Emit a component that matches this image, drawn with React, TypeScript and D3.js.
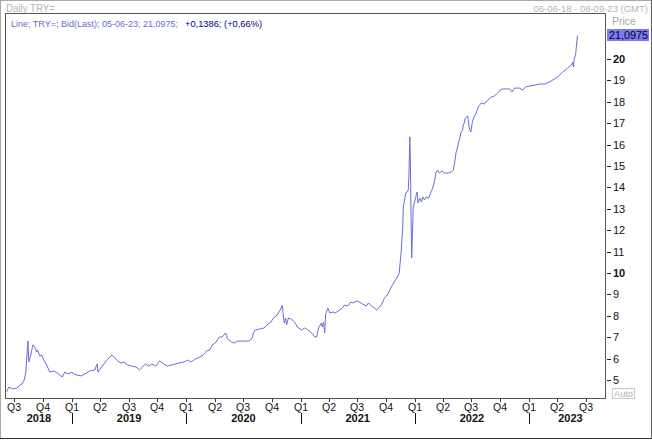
import React from 'react';
import * as d3 from 'd3';

// daily TRY= bid
const dates = [
  '2018-06-06', '2018-06-13', '2018-06-26', '2018-07-09', '2018-07-19', '2018-07-25', '2018-08-01', '2018-08-06',
  '2018-08-09', '2018-08-13', '2018-08-16', '2018-08-22', '2018-08-29', '2018-09-04', '2018-09-10', '2018-09-13',
  '2018-09-20', '2018-09-26', '2018-10-03', '2018-10-12', '2018-10-22', '2018-11-04', '2018-11-14', '2018-11-23',
  '2018-12-01', '2018-12-09', '2018-12-19', '2019-01-01', '2019-01-07', '2019-01-17', '2019-01-29', '2019-02-11',
  '2019-02-27', '2019-03-15', '2019-03-22', '2019-03-25', '2019-04-03', '2019-04-13', '2019-04-22', '2019-05-02',
  '2019-05-08', '2019-05-18', '2019-05-27', '2019-06-06', '2019-06-16', '2019-06-28', '2019-07-11', '2019-07-24',
  '2019-08-05', '2019-08-15', '2019-08-24', '2019-09-03', '2019-09-13', '2019-09-26', '2019-10-08', '2019-10-21',
  '2019-11-02', '2019-11-15', '2019-11-28', '2019-12-09', '2019-12-24', '2020-01-06', '2020-01-15', '2020-01-31',
  '2020-02-13', '2020-02-25', '2020-03-06', '2020-03-16', '2020-03-25', '2020-04-06', '2020-04-16', '2020-04-25',
  '2020-05-06', '2020-05-12', '2020-05-25', '2020-06-03', '2020-06-13', '2020-06-28', '2020-07-20', '2020-07-30',
  '2020-08-03', '2020-08-09', '2020-08-22', '2020-09-06', '2020-09-15', '2020-09-28', '2020-10-06', '2020-10-15',
  '2020-10-28', '2020-11-03', '2020-11-07', '2020-11-10', '2020-11-14', '2020-11-17', '2020-11-23', '2020-12-02',
  '2020-12-15', '2020-12-21', '2021-01-04', '2021-01-14', '2021-01-24', '2021-02-05', '2021-02-15', '2021-02-21',
  '2021-02-27', '2021-03-08', '2021-03-11', '2021-03-15', '2021-03-19', '2021-03-22', '2021-03-29', '2021-04-05',
  '2021-04-14', '2021-04-20', '2021-04-27', '2021-05-06', '2021-05-14', '2021-05-21', '2021-06-01', '2021-06-10',
  '2021-06-16', '2021-06-29', '2021-07-08', '2021-07-18', '2021-07-30', '2021-08-06', '2021-08-15', '2021-08-25',
  '2021-09-01', '2021-09-10', '2021-09-19', '2021-09-26', '2021-10-05', '2021-10-18', '2021-10-27', '2021-11-05',
  '2021-11-12', '2021-11-15', '2021-11-18', '2021-11-22', '2021-11-23', '2021-11-25', '2021-11-29', '2021-12-03',
  '2021-12-08', '2021-12-11', '2021-12-13', '2021-12-16', '2021-12-18', '2021-12-20', '2021-12-22', '2021-12-24',
  '2021-12-27', '2022-01-04', '2022-01-08', '2022-01-11', '2022-01-17', '2022-01-22', '2022-01-27', '2022-02-01',
  '2022-02-06', '2022-02-14', '2022-02-22', '2022-02-27', '2022-03-04', '2022-03-10', '2022-03-15', '2022-03-20',
  '2022-03-29', '2022-04-05', '2022-04-16', '2022-04-27', '2022-05-04', '2022-05-08', '2022-05-13', '2022-05-18',
  '2022-05-21', '2022-05-23', '2022-05-29', '2022-06-03', '2022-06-05', '2022-06-08', '2022-06-11', '2022-06-19',
  '2022-06-24', '2022-06-29', '2022-07-04', '2022-07-09', '2022-07-16', '2022-07-23', '2022-08-01', '2022-08-11',
  '2022-08-22', '2022-09-02', '2022-09-12', '2022-09-23', '2022-10-01', '2022-10-09', '2022-10-20', '2022-10-31',
  '2022-11-08', '2022-11-15', '2022-12-01', '2022-12-12', '2022-12-21', '2023-01-03', '2023-01-19', '2023-02-04',
  '2023-02-20', '2023-03-08', '2023-03-24', '2023-04-06', '2023-04-19', '2023-05-05', '2023-05-16', '2023-05-21',
  '2023-05-23', '2023-05-26', '2023-05-30', '2023-06-01', '2023-06-05',
];
const prices = [
  4.45, 4.67, 4.58, 4.63, 4.77, 4.81, 5.0, 5.33,
  5.93, 6.82, 5.84, 6.17, 6.64, 6.54, 6.31, 6.4,
  6.12, 6.17, 5.93, 5.7, 5.37, 5.42, 5.33, 5.23,
  5.14, 5.37, 5.28, 5.37, 5.28, 5.23, 5.19, 5.28,
  5.42, 5.47, 5.75, 5.37, 5.56, 5.75, 5.93, 6.07,
  6.17, 6.03, 5.89, 5.79, 5.84, 5.7, 5.65, 5.61,
  5.47, 5.61, 5.75, 5.65, 5.75, 5.65, 5.89, 5.75,
  5.65, 5.7, 5.75, 5.79, 5.84, 5.93, 5.84, 5.98,
  6.07, 6.17, 6.36, 6.4, 6.64, 6.78, 7.01, 7.01,
  7.2, 6.92, 6.78, 6.73, 6.82, 6.82, 6.82, 6.96,
  7.2, 7.34, 7.38, 7.43, 7.57, 7.71, 7.9, 7.99,
  8.27, 8.5, 7.94, 7.66, 7.9, 7.57, 7.9, 7.85,
  7.66, 7.48, 7.34, 7.43, 7.34, 7.2, 7.01, 7.01,
  7.43, 7.66, 7.48, 7.71, 7.2, 8.08, 8.36, 8.13,
  8.18, 8.13, 8.18, 8.27, 8.36, 8.5, 8.46, 8.64,
  8.6, 8.69, 8.64, 8.55, 8.46, 8.6, 8.46, 8.36,
  8.27, 8.41, 8.6, 8.83, 8.97, 9.35, 9.58, 9.77,
  10.0, 10.47, 10.93, 11.87, 12.01, 13.08, 13.41, 13.74,
  13.79, 13.88, 14.49, 16.36, 15.14, 12.48, 10.7, 11.68,
  13.08, 13.55, 13.79, 13.27, 13.5, 13.32, 13.55, 13.41,
  13.55, 13.5, 13.79, 13.97, 14.21, 14.72, 14.81, 14.67,
  14.77, 14.67, 14.67, 14.72, 14.81, 15.14, 15.65, 15.89,
  16.12, 16.21, 16.59, 16.68, 16.92, 17.01, 17.24, 17.34,
  16.78, 16.59, 17.06, 17.29, 17.48, 17.76, 17.94, 17.9,
  18.08, 18.22, 18.27, 18.41, 18.55, 18.6, 18.6, 18.6,
  18.46, 18.64, 18.64, 18.55, 18.69, 18.74, 18.78, 18.83,
  18.83, 18.93, 19.07, 19.21, 19.39, 19.58, 19.72, 19.86,
  19.63, 20.05, 20.19, 20.51, 21.0975,
];
const yTicks = [5, 6, 7, 8, 9, 10, 11, 12, 13, 14, 15, 16, 17, 18, 19, 20];
const years = [2018, 2019, 2020, 2021, 2022, 2023];

const W = 652;
const H = 440;
const plot = { left: 6, top: 14, right: 606, bottom: 399 };
const FONT = '"Liberation Sans", Arial, sans-serif';
const LINE_COLOR = '#6c6cd8';

export default function App() {
  const parse = d3.timeParse('%Y-%m-%d');
  const data = dates.map((d, i) => ({ date: parse(d) as Date, value: prices[i] }));

  const x = d3.scaleTime()
    .domain([new Date(2019, 0, 1), new Date(2023, 0, 1)])
    .range([72, 529]);
  const y = d3.scaleLinear().domain([5, 20]).range([380, 59]);

  const line = d3.line<{ date: Date; value: number }>()
    .x(d => x(d.date))
    .y(d => y(d.value));

  const leftDate = x.invert(plot.left);
  const rightDate = x.invert(plot.right);
  const quarters = d3.timeMonth.every(3)!.range(leftDate, rightDate);
  const yearStarts = d3.timeYear.range(leftDate, rightDate);

  const last = data[data.length - 1];

  return (
    <div style={{ position: 'fixed', left: 0, top: 0 }}>
      <svg width={W} height={H} style={{ display: 'block', background: '#fff' }} fontFamily={FONT}>
        <defs>
          <clipPath id="plotClip">
            <rect x={plot.left} y={plot.top} width={plot.right - plot.left} height={plot.bottom - plot.top} />
          </clipPath>
        </defs>

        {/* outer frame */}
        <rect x={0.5} y={0.5} width={W - 1} height={438} fill="none" stroke="#a8a8a8" />
        <line x1={0} x2={W} y1={438.5} y2={438.5} stroke="#303030" />
        <line x1={651.5} x2={651.5} y1={0} y2={439} stroke="#606060" />

        {/* header */}
        <text x={6} y={12} fontSize={10.5} fill="#b4b4b4" textLength={49} lengthAdjust="spacingAndGlyphs">Daily TRY=</text>
        <text x={648} y={12} fontSize={9.5} fill="#b4b4b4" textAnchor="end">06-06-18 - 08-09-23 (GMT)</text>

        {/* plot box */}
        <rect x={plot.left - 0.5} y={plot.top - 0.5} width={plot.right - plot.left} height={plot.bottom - plot.top}
          fill="#fff" stroke="#555" />

        <text x={11} y={27} fontSize={9} fill="#6a6ad0">Line; TRY=; Bid(Last); 05-06-23; 21,0975;</text>
        <text x={185} y={27} fontSize={9.3} fill="#00008a">+0,1386; (+0,66%)</text>

        <path d={line(data) || ''} fill="none" stroke={LINE_COLOR} strokeWidth={1} clipPath="url(#plotClip)" />

        {/* right price axis */}
        <text x={612} y={25} fontSize={10.5} fill="#a8a8a8">Price</text>
        {yTicks.map(t => (
          <g key={t}>
            <line x1={607} x2={611} y1={Math.round(y(t)) + 0.5} y2={Math.round(y(t)) + 0.5} stroke="#222" />
            <text x={613} y={y(t) + 4} fontSize={11} fill="#111" fontWeight={t % 10 === 0 ? 'bold' : 'normal'}>{t}</text>
          </g>
        ))}
        <rect x={607} y={29} width={42} height={12} fill="#7b7bec" />
        <text x={609} y={39} fontSize={11} fill="#000030" textLength={39} lengthAdjust="spacingAndGlyphs">
          {d3.format('.4f')(last.value).replace('.', ',')}
        </text>
        <rect x={612.5} y={388.5} width={22} height={10} fill="#fff" stroke="#c8c8c8" />
        <text x={614} y={397} fontSize={9.5} fill="#b0b0b0" textLength={19} lengthAdjust="spacingAndGlyphs">Auto</text>

        {/* bottom time axis */}
        {quarters.map(q => {
          const qx = Math.round(x(q));
          return (
            <g key={q.toISOString()}>
              <line x1={qx + 0.5} x2={qx + 0.5} y1={399} y2={402} stroke="#333" />
              <text x={qx} y={411} fontSize={10.5} fill="#111" textAnchor="middle">
                {'Q' + (Math.floor(q.getMonth() / 3) + 1)}
              </text>
            </g>
          );
        })}
        {yearStarts.map(ys => (
          <line key={ys.getFullYear()} x1={Math.round(x(ys)) + 0.5} x2={Math.round(x(ys)) + 0.5} y1={413} y2={424} stroke="#111" />
        ))}
        {years.map(yr => {
          const a = Math.max(x(new Date(yr, 0, 1)), plot.left);
          const b = Math.min(x(new Date(yr + 1, 0, 1)), plot.right + 6);
          return (
            <text key={yr} x={(a + b) / 2} y={422} fontSize={11} fontWeight="bold" fill="#111" textAnchor="middle">{yr}</text>
          );
        })}
      </svg>
    </div>
  );
}
